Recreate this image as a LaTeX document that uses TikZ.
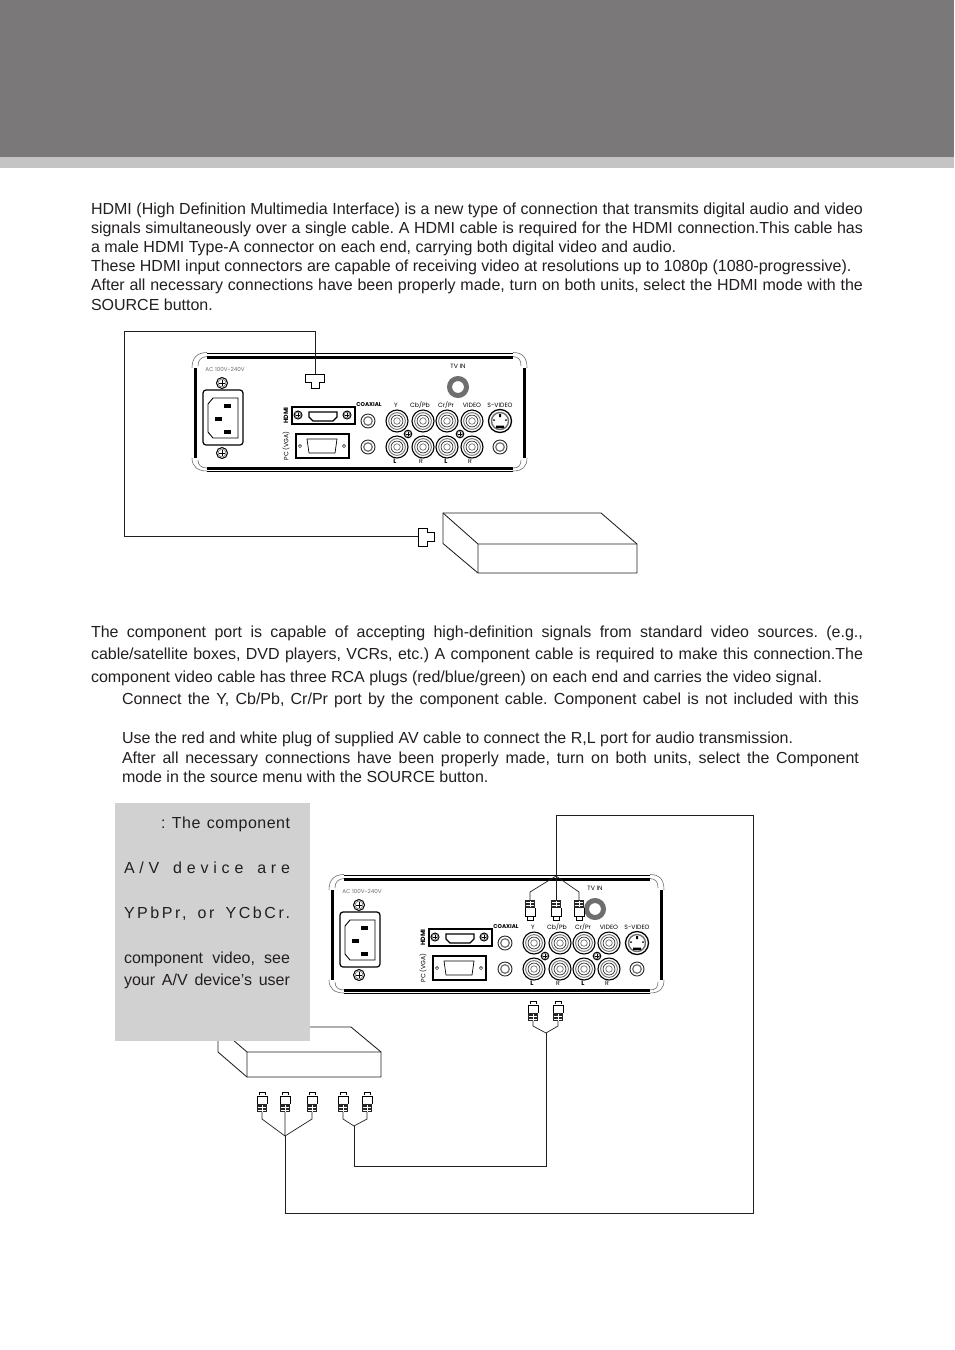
\documentclass[tikz,border=0pt]{standalone}
\usepackage{fontspec}
\usetikzlibrary{calc}
\setmainfont{Liberation Sans}
\newfontfamily\plabel{Poppins}
\AtBeginDocument{\frenchspacing}
\definecolor{inkc}{HTML}{231F20}
\definecolor{bandc}{HTML}{7A7879}
\definecolor{stripc}{HTML}{C4C4C4}
\definecolor{notec}{HTML}{D1D1D1}
\definecolor{midg}{HTML}{6E6E6E}
\tikzset{
  txt/.style={inner sep=0pt,outer sep=0pt,anchor=base west,text=inkc,font=\fontsize{16}{19}\selectfont},
  plab/.style={inner sep=0pt,outer sep=0pt,text=black,font=\plabel\fontsize{6.2}{7}\selectfont},
  cable/.style={draw=inkc,line width=.85pt,line join=miter},
  thinwire/.style={draw=inkc,line width=.7pt,line join=miter},
  boxline/.style={draw=inkc,line width=.85pt,line join=round},
  part/.style={draw=black,line width=.9pt},
}
\newcommand\jline[5]{\node[txt] (#1) at (#2,#3) {\makebox[#4pt][s]{#5}};}
\newcommand\tline[4]{\node[txt] (#1) at (#2,#3) {#4};}
\newcommand\scr[3]{%
  \draw[black,line width=1pt,fill=white] (#1,#2) circle (#3);
  \draw[midg,line width=.6pt] (#1,#2) circle (#3*.72);
  \draw[black,line width=1pt] (#1-#3*.6,#2) -- (#1+#3*.6,#2) (#1,#2-#3*.6) -- (#1,#2+#3*.6);
}
\newcommand\jack[3]{%
  \draw[black,line width=1.1pt,fill=white] (#1,#2) circle (#3);
  \draw[midg,line width=.9pt] (#1,#2) circle (#3*.76);
  \draw[black!80,line width=.7pt] (#1,#2) circle (#3*.54);
  \draw[midg,line width=.7pt] (#1,#2) circle (#3*.3);
}
\newcommand\smalljack[2]{%
  \draw[black!85,line width=.9pt,fill=white] (#1,#2) circle (7);
  \draw[midg,line width=1.2pt] (#1,#2) circle (4.3);
}
\newcommand\rcaplug[3]{% x, tip y, dir (1: tip points up)
  \begin{scope}[shift={(#1,#2)},yscale=#3]
    \draw[black,line width=.7pt,fill=white] (-3,3) -- (-3,0) -- (3,0) -- (3,3);
    \draw[black,line width=.9pt,fill=white] (-5,12) -- (-5,4) -- (5,4) -- (5,12);
    \fill[black!85] (-5,12) rectangle (5,20);
    \draw[white,line width=.7pt] (-4,15) -- (4,15) (-4,18) -- (4,18) (0,13) -- (0,19.5);
  \end{scope}
}
\newcommand\panel[3]{%
 \begin{scope}[shift={(#2,#3)}]
  % frame
  \fill[black] (207,355.5) rectangle (513,358.5);
  \draw[black,line width=.7pt] (207,353) -- (513,353);
  \fill[black] (207,466.5) rectangle (513,469.5);
  \draw[black,line width=.6pt] (207,471) -- (513,471);
  \fill[black] (193.5,368) rectangle (197,458);
  \fill[black] (522.5,368) rectangle (526,458);
  \draw[midg,line width=.6pt]
    (192,368) .. controls (192,358) and (197,352.5) .. (207,352.5)
    (198,366) .. controls (198,360) and (201,357) .. (207,356.5)
    (513,352.5) .. controls (523,352.5) and (527,358) .. (527,368)
    (513,356.5) .. controls (519,357) and (521,360) .. (521,366)
    (192,458) .. controls (192,466) and (197,471) .. (207,471)
    (198,460) .. controls (198,465) and (201,468) .. (207,468)
    (513,471) .. controls (523,471) and (527,466) .. (527,458)
    (513,468) .. controls (519,468) and (521,465) .. (521,460);
  % power inlet
  \node[plab,text=midg,font=\plabel\fontsize{5.6}{6}\selectfont] (#1ac) at (225,369) {AC 100V\textasciitilde240V};
  \scr{222}{383}{5.5}
  \scr{222}{453}{5.5}
  \draw[part,rounded corners=3pt,line width=1.2pt] (203,390) rectangle (243,445);
  \draw[part] (213,398) -- (238,398) -- (238,438) -- (213,438) -- (208,432) -- (208,404) -- cycle;
  \fill[black] (223.5,404) rectangle (231,408);
  \fill[black] (215,417) rectangle (222,421);
  \fill[black] (223.5,430) rectangle (231,434);
  % HDMI
  \draw[part,line width=1.2pt] (292,407) rectangle (355,424);
  \scr{298}{415}{4}
  \scr{347}{415}{4}
  \draw[black,line width=1.3pt] (309,412) -- (337,412) -- (337,417) -- (333,421) -- (313,421) -- (309,417) -- cycle;
  \node[plab,rotate=90,font=\plabel\bfseries\fontsize{6.2}{7}\selectfont] (#1hdmi) at (286,415.5) {HDMI};
  \node[plab,rotate=90] (#1vga) at (286,446) {PC (VGA)};
  % VGA
  \draw[part,line width=1.2pt] (296,434) rectangle (349,458);
  \draw[black,line width=.7pt] (307,439) -- (337,439) -- (335,453) -- (309,453) -- cycle;
  \draw[black,line width=.5pt] (300,446) circle (1.6) (344,446) circle (1.6);
  % jacks
  \smalljack{368}{421}
  \smalljack{368}{447}
  \jack{397}{421}{11}
  \jack{423}{421}{11}
  \jack{447}{421}{11}
  \jack{472}{421}{11}
  \jack{397}{447}{11}
  \jack{423}{447}{11}
  \jack{447}{447}{11}
  \jack{472}{447}{11}
  \smalljack{500}{447}
  \scr{408}{434}{3.8}
  \scr{460}{434}{3.8}
  % S-video
  \draw[black,line width=1.3pt,fill=white] (500,421) circle (11.5);
  \draw[midg,line width=1.4pt] (500,421) circle (8.5);
  \fill[black] (496,425.5) rectangle (504,428) (499,414) rectangle (501,417);
  \fill[black] (494,420) circle (1) (506,420) circle (1);
  % TV IN
  \draw[midg,line width=5pt] (458,387) circle (8.5);
  \node[plab] (#1tv) at (458,366) {TV IN};
  \node[plab,font=\plabel\bfseries\fontsize{5.6}{7}\selectfont] (#1coax) at (369,405) {COAXIAL};
  \node[plab] (#1y) at (396,405) {Y};
  \node[plab] (#1cb) at (420,405) {Cb/Pb};
  \node[plab] (#1cr) at (446,405) {Cr/Pr};
  \node[plab] (#1vid) at (472,405) {VIDEO};
  \node[plab] (#1sv) at (500,405) {S-VIDEO};
  \node[plab,font=\plabel\bfseries\fontsize{6.5}{7}\selectfont] (#1l) at (395,461.5) {L};
  \node[plab] (#1r) at (421,461.5) {R};
  \node[plab,font=\plabel\bfseries\fontsize{6.5}{7}\selectfont] (#1lb) at (446,461.5) {L};
  \node[plab] (#1rb) at (470,461.5) {R};
 \end{scope}
}
\begin{document}
\begin{tikzpicture}[x=1pt,y=-1pt]
\useasboundingbox (0,0) rectangle (954,1350);
\fill[white] (0,0) rectangle (954,1350);
\fill[bandc] (0,0) rectangle (954,157);
\fill[stripc] (0,157) rectangle (954,167.5);

% --- first text block
\jline{a1}{91}{214}{772}{HDMI (High Definition Multimedia Interface) is a new type of connection that transmits digital audio and video}
\jline{a2}{91}{233}{772}{signals simultaneously over a single cable. A HDMI cable is required for the HDMI connection.This cable has}
\tline{a3}{91}{252}{a male HDMI Type-A connector on each end, carrying both digital video and audio.}
\tline{a4}{91}{271}{These HDMI input connectors are capable of receiving video at resolutions up to 1080p (1080-progressive).}
\jline{a5}{91}{290}{772}{After all necessary connections have been properly made, turn on both units, select the HDMI mode with the}
\tline{a6}{91}{310}{SOURCE button.}

% --- first diagram
\panel{p}{0}{0}
\coordinate (hp) at (315,374);
\coordinate (hc1) at (315,331);
\coordinate (hc2) at (124.5,331);
\coordinate (hc3) at (124.5,536);
\coordinate (hs) at (418,536);
\draw[cable] (hp) -- (hc1) -- (hc2) -- (hc3) -- (hs);
\draw[black,line width=.9pt,fill=white] (305,374) -- (324,374) -- (324,382) -- (319,382) -- (319,388) -- (311,388) -- (311,382) -- (305,382) -- cycle;
\draw[black,line width=.9pt,fill=white] (418,528) -- (427,528) -- (427,532) -- (434.5,532) -- (434.5,541) -- (427,541) -- (427,546) -- (418,546) -- cycle;
\draw[boxline] (443,513) -- (601,513) -- (637,544) -- (637,573) -- (478,573) -- (443,543.5) -- cycle;
\draw[boxline] (443,513) -- (478,544) -- (637,544) (478,544) -- (478,573);

% --- second text block
\jline{b1}{91}{637}{772}{The component port is capable of accepting high-definition signals from standard video sources. (e.g.,}
\jline{b2}{91}{659}{772}{cable/satellite boxes, DVD players, VCRs, etc.) A component cable is required to make this connection.The}
\tline{b3}{91}{682}{component video cable has three RCA plugs (red/blue/green) on each end and carries the video signal.}
\jline{b4}{122}{704}{737}{Connect the Y, Cb/Pb, Cr/Pr port by the component cable. Component cabel is not included with this}
\tline{b5}{122}{743}{Use the red and white plug of supplied AV cable to connect the R,L port for audio transmission.}
\jline{b6}{122}{763}{737}{After all necessary connections have been properly made, turn on both units, select the Component}
\tline{b7}{122}{782}{mode in the source menu with the SOURCE button.}

% --- second diagram
\panel{q}{137}{522}
% source box
\draw[boxline] (218,1027) -- (351,1027) -- (381,1052) -- (381,1077) -- (247,1077) -- (218,1052) -- cycle;
\draw[boxline] (218,1027) -- (247,1052) -- (381,1052) (247,1052) -- (247,1077);
% note
\fill[notec] (115,803) rectangle (310,1041);
\node[txt,anchor=base east] (n1) at (290,828) {\addfontfeature{LetterSpace=3}\makebox[129pt][s]{: The component}};
\node[txt] (n2) at (124,873) {\addfontfeature{LetterSpace=30}\makebox[166pt][s]{A/V device are}};
\node[txt] (n3) at (124,918) {\addfontfeature{LetterSpace=16}\makebox[166pt][s]{YPbPr, or YCbCr.}};
\node[txt] (n4) at (124,963) {\makebox[166pt][s]{component video, see}};
\node[txt] (n5) at (124,985) {\makebox[166pt][s]{your A/V device’s user}};
% cables: source outputs
\coordinate (j1) at (285,1136);
\coordinate (j2) at (354,1126);
\coordinate (j3) at (546,1033);
\coordinate (j4) at (556,876);
\coordinate (s1) at (262,1112);
\coordinate (s2) at (285,1112);
\coordinate (s3) at (312,1112);
\coordinate (s4) at (343,1112);
\coordinate (s5) at (367,1112);
\coordinate (t1) at (533,1021);
\coordinate (t2) at (558,1021);
\coordinate (u1) at (530,900);
\coordinate (u2) at (556,900);
\coordinate (u3) at (579,900);
\draw[thinwire] (s1) -- ($(s1)+(0,7)$) -- (j1) -- (s2);
\draw[thinwire] (s3) -- ($(s3)+(0,7)$) -- (j1);
\draw[thinwire] (s4) -- ($(s4)+(0,7)$) -- (j2) -- ($(s5)+(0,7)$) -- (s5);
\draw[thinwire] (t1) -- ($(t1)+(0,5)$) -- (j3) -- ($(t2)+(0,5)$) -- (t2);
\draw[thinwire] (u1) -- ($(u1)+(0,-8)$) -- (j4) -- ($(u3)+(0,-8)$) -- (u3);
\draw[cable] (j2) -- (354,1166) -- (546,1166) -- (j3);
\draw[cable] (j1) -- (285,1213) -- (753,1213) -- (753,815) -- (556,815) -- (u2);
% plugs
\rcaplug{262}{1092}{1}
\rcaplug{285}{1092}{1}
\rcaplug{312}{1092}{1}
\rcaplug{343}{1092}{1}
\rcaplug{367}{1092}{1}
\rcaplug{533}{1001}{1}
\rcaplug{558}{1001}{1}
\rcaplug{530}{920}{-1}
\rcaplug{556}{920}{-1}
\rcaplug{579}{920}{-1}
\end{tikzpicture}
\end{document}
